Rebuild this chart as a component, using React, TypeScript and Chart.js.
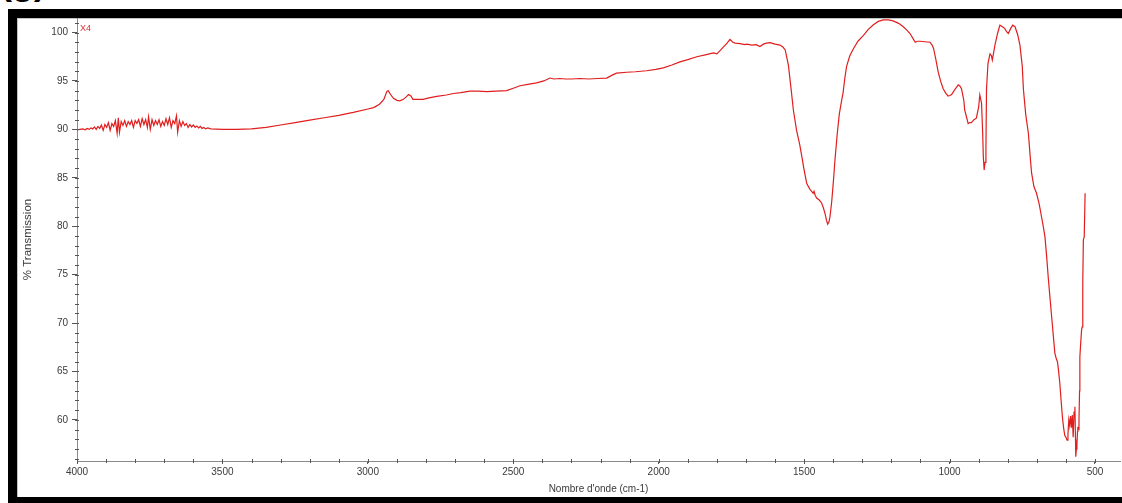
import { useEffect, useRef } from "react";
import { Chart, registerables } from "chart.js";

Chart.register(...registerables);

// IR spectrum, wavenumber (cm-1) against % transmission
const wavenumber = [
  4000, 3990, 3980, 3972, 3965, 3958, 3952, 3946, 3940, 3934, 3928, 3922, 3916, 3910, 3904, 3898,
  3892, 3886, 3880, 3874, 3868, 3862, 3858, 3854, 3848, 3842, 3836, 3830, 3824, 3818, 3812, 3806,
  3800, 3794, 3788, 3782, 3776, 3770, 3764, 3758, 3754, 3748, 3742, 3736, 3730, 3724, 3718, 3712,
  3706, 3700, 3694, 3688, 3682, 3676, 3670, 3664, 3658, 3654, 3648, 3642, 3636, 3630, 3624, 3618,
  3612, 3606, 3600, 3594, 3588, 3582, 3576, 3570, 3564, 3558, 3550, 3540,
  3500, 3450, 3400, 3350, 3300, 3250, 3200, 3150, 3100, 3050, 3000, 2980, 2960, 2945, 2935, 2930,
  2922, 2912, 2900, 2890, 2878, 2868, 2860, 2852, 2845, 2830, 2810, 2790, 2763, 2730, 2706, 2680,
  2649, 2620, 2591, 2560, 2523, 2500, 2477, 2450, 2420, 2395, 2374, 2360, 2340, 2320, 2300, 2270,
  2240, 2210, 2179, 2160, 2145, 2110, 2080, 2042, 2010, 1984, 1955, 1927, 1900, 1869, 1840, 1812,
  1800, 1790, 1778, 1765, 1755, 1745, 1737, 1720, 1705, 1697, 1680, 1665, 1652, 1640, 1630, 1617,
  1600, 1583, 1573, 1565, 1554, 1545, 1537, 1526, 1515, 1508, 1500, 1491, 1480, 1474, 1469, 1466,
  1462, 1457, 1448, 1440, 1434, 1428, 1423, 1419, 1414, 1411, 1405, 1400, 1393, 1386, 1379, 1371,
  1366, 1360, 1354, 1343, 1331, 1315, 1296, 1280, 1262, 1245, 1228, 1210, 1194, 1175, 1159, 1147,
  1136, 1126, 1118, 1110, 1101, 1085, 1067, 1060, 1055, 1047, 1039, 1030, 1022, 1012, 1005, 999,
  993, 982, 970, 964, 959, 951, 948, 942, 936, 930, 925, 916, 908, 900, 896, 892,
  890, 886, 884, 881, 878, 875, 873, 868, 861, 856, 853, 848, 844, 835, 827, 818,
  810, 804, 798, 790, 783, 775, 766, 758, 750, 746, 738, 729, 722, 718, 710, 701,
  692, 684, 678, 672, 666, 661, 655, 649, 643, 638, 633, 629, 625, 621, 617, 612,
  608, 604, 600, 596, 593, 590, 587, 584, 581, 578, 575, 572, 569, 567, 566, 564,
  562, 560, 559, 557, 555, 553, 552, 549, 546, 544, 542, 540, 537, 535, 534,
];

const transmission = [
  89.95, 90.0, 90.05, 89.95, 90.1, 90.0, 90.15, 90.05, 90.25, 90.0, 90.3, 90.1, 90.45, 89.9, 90.5, 90.2,
  90.7, 89.9, 90.6, 90.3, 90.9, 89.6, 91.2, 89.7, 90.8, 90.4, 90.9, 90.3, 90.8, 90.5, 90.9, 90.2,
  90.9, 90.6, 91.0, 90.3, 91.1, 90.5, 91.0, 90.2, 91.3, 90.0, 91.0, 90.4, 90.9, 90.5, 91.0, 90.3,
  90.8, 90.4, 91.1, 90.5, 91.2, 90.2, 90.9, 90.6, 91.4, 89.7, 90.9, 90.3, 90.8, 90.4, 90.6, 90.2,
  90.5, 90.25, 90.45, 90.2, 90.35, 90.15, 90.3, 90.1, 90.2, 90.05, 90.15, 90.05,
  90.0, 90.0, 90.05, 90.2, 90.45, 90.7, 90.95, 91.2, 91.45, 91.75, 92.1, 92.25, 92.6, 93.1, 93.9, 94.0,
  93.6, 93.2, 93.0, 92.95, 93.1, 93.35, 93.6, 93.45, 93.1, 93.1, 93.1, 93.25, 93.4, 93.55, 93.7, 93.8,
  93.95, 93.95, 93.9, 93.95, 94.0, 94.25, 94.5, 94.65, 94.8, 95.0, 95.3, 95.2, 95.25, 95.2, 95.2, 95.25,
  95.2, 95.25, 95.3, 95.6, 95.8, 95.9, 95.95, 96.05, 96.2, 96.35, 96.65, 96.97, 97.2, 97.5, 97.7, 97.9,
  97.8, 98.1, 98.5, 98.9, 99.3, 99.0, 98.9, 98.85, 98.75, 98.8, 98.7, 98.75, 98.55, 98.8, 98.9, 98.95,
  98.8, 98.7, 98.5, 98.2, 96.6, 94.2, 92.0, 89.9, 88.4, 87.2, 85.8, 84.4, 83.8, 83.6, 83.4, 83.6,
  83.2, 82.9, 82.7, 82.4, 81.9, 81.3, 80.6, 80.2, 80.5, 81.0, 82.6, 84.4, 87.2, 89.6, 91.6, 93.0,
  93.8, 95.3, 96.5, 97.6, 98.3, 99.1, 99.7, 100.3, 100.8, 101.15, 101.3, 101.3, 101.2, 100.95, 100.6, 100.25,
  99.9, 99.4, 99.0, 99.1, 99.1, 99.05, 99.0, 98.7, 98.35, 97.2, 95.9, 94.9, 94.2, 93.7, 93.45, 93.5,
  93.6, 94.1, 94.6, 94.45, 94.2, 93.0, 92.0, 91.3, 90.6, 90.7, 90.7, 91.0, 91.15, 92.3, 93.56, 93.0,
  92.7, 89.5, 87.2, 85.8, 86.6, 87.9, 94.1, 96.8, 97.8, 97.6, 97.15, 98.0, 98.7, 99.9, 100.76, 100.6,
  100.4, 100.1, 99.9, 100.4, 100.76, 100.6, 99.8, 98.7, 96.5, 94.1, 91.5, 89.6, 86.9, 85.5, 84.1, 83.4,
  82.3, 81.0, 80.0, 78.9, 76.8, 74.8, 72.7, 70.65, 68.6, 66.9, 66.3, 66.0, 65.0, 63.8, 62.2, 60.3,
  59.2, 58.4, 58.2, 57.9, 58.5, 60.0, 59.4, 60.4, 59.2, 60.5, 58.2, 60.8, 61.35, 58.0, 56.2, 57.0,
  57.5, 58.8, 59.3, 59.0, 60.0, 63.0, 66.5, 68.0, 69.3, 69.6, 74.0, 78.6, 78.9, 78.9, 83.4,
];

const xTickValues = [4000, 3500, 3000, 2500, 2000, 1500, 1000, 500];
const yTickValues = [60, 65, 70, 75, 80, 85, 90, 95, 100];
const xAxisTitle = "Nombre d'onde (cm-1)";
const yAxisTitle = "% Transmission";
const sampleTag = "X4";
const panelTag = "(g)";

const FONT = '"Liberation Sans", Arial, sans-serif';
const TEXT = "#3a3a3a";
const AXIS = "#8a8a8a";
const LINE = "#e01e1e";

// small tick marks between the labelled ticks, plus the sample tag
const minorTicks = {
  id: "minorTicks",
  afterDraw(chart: any) {
    const { ctx, chartArea, scales } = chart;
    const x = scales.x;
    const y = scales.y;
    ctx.save();
    ctx.strokeStyle = "#555";
    ctx.lineWidth = 1;
    ctx.beginPath();
    for (let v = 500; v <= 4000; v += 100) {
      const px = Math.round(x.getPixelForValue(v)) + 0.5;
      ctx.moveTo(px, chartArea.bottom - 2);
      ctx.lineTo(px, chartArea.bottom + 2);
    }
    for (let v = 56; v <= 101; v += 1) {
      const py = Math.round(y.getPixelForValue(v)) + 0.5;
      ctx.moveTo(chartArea.left - 2, py);
      ctx.lineTo(chartArea.left + 2, py);
    }
    ctx.stroke();
    ctx.fillStyle = "#e03030";
    ctx.font = `9px ${FONT}`;
    ctx.textBaseline = "middle";
    ctx.textAlign = "left";
    ctx.fillText(sampleTag, chartArea.left + 3, y.getPixelForValue(100) - 4);
    ctx.restore();
  },
};

export default function App() {
  const canvasRef = useRef<HTMLCanvasElement | null>(null);

  useEffect(() => {
    if (!canvasRef.current) return;
    const points = wavenumber.map((w, i) => ({ x: w, y: transmission[i] }));
    const chart = new Chart(canvasRef.current, {
      type: "line",
      data: {
        datasets: [
          {
            data: points,
            borderColor: LINE,
            borderWidth: 1.2,
            pointRadius: 0,
            tension: 0,
            fill: false,
          },
        ],
      },
      options: {
        animation: false,
        responsive: false,
        devicePixelRatio: 1,
        parsing: false,
        layout: { padding: { left: 17, right: 2, top: 18, bottom: 0 } },
        plugins: {
          legend: { display: false },
          tooltip: { enabled: false },
        },
        scales: {
          x: {
            type: "linear",
            reverse: true,
            min: 414,
            max: 4000,
            afterBuildTicks: (scale: any) => {
              scale.ticks = xTickValues.map((v) => ({ value: v }));
            },
            afterFit: (scale: any) => {
              scale.height = 42;
            },
            border: { color: AXIS, width: 1 },
            grid: {
              drawOnChartArea: false,
              drawTicks: true,
              tickLength: 3,
              color: "#555",
            },
            ticks: {
              autoSkip: false,
              maxRotation: 0,
              padding: 2,
              color: TEXT,
              font: { family: FONT, size: 10 },
              callback: (v: any) => String(v),
            },
            title: {
              display: true,
              text: xAxisTitle,
              color: TEXT,
              font: { family: FONT, size: 10 },
              padding: { top: 0, bottom: 8 },
            },
          },
          y: {
            type: "linear",
            min: 55.75,
            max: 101.5,
            afterBuildTicks: (scale: any) => {
              scale.ticks = yTickValues.map((v) => ({ value: v }));
            },
            afterFit: (scale: any) => {
              scale.width = 60;
            },
            border: { color: AXIS, width: 1 },
            grid: {
              drawOnChartArea: false,
              drawTicks: true,
              tickLength: 5,
              color: "#555",
            },
            ticks: {
              autoSkip: false,
              padding: 4,
              color: TEXT,
              font: { family: FONT, size: 10 },
              callback: (v: any) => String(v),
            },
            title: {
              display: true,
              text: yAxisTitle,
              color: TEXT,
              font: { family: FONT, size: 11.5 },
              padding: { top: 4, bottom: 0 },
            },
          },
        },
      },
      plugins: [minorTicks],
    });
    return () => chart.destroy();
  }, []);

  return (
    <div
      style={{
        position: "fixed",
        left: 0,
        top: 0,
        width: 1122,
        height: 503,
        overflow: "hidden",
        background: "#fff",
      }}
    >
      <div
        style={{
          position: "absolute",
          left: 0,
          top: -36,
          fontFamily: FONT,
          fontWeight: "bold",
          fontSize: 36,
          lineHeight: "36px",
          color: "#000",
          whiteSpace: "nowrap",
        }}
      >
        {panelTag}
      </div>
      <div
        style={{
          position: "absolute",
          left: 8,
          top: 9,
          width: 1130,
          height: 520,
          background: "#000",
        }}
      />
      <div
        style={{
          position: "absolute",
          left: 17,
          top: 18,
          width: 1120,
          height: 479,
          background: "#fff",
          borderLeft: "1px solid #c4c4c4",
          borderTop: "1px solid #c4c4c4",
          boxSizing: "border-box",
        }}
      />
      <canvas
        ref={canvasRef}
        width={1122}
        height={503}
        style={{ position: "absolute", left: 0, top: 0, width: 1122, height: 503 }}
      />
    </div>
  );
}
